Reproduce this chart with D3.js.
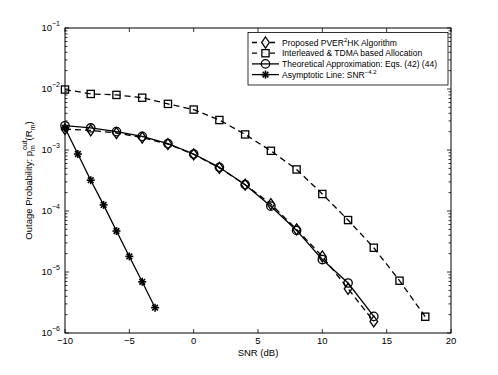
<!DOCTYPE html>
<html>
<head>
<meta charset="utf-8">
<script src="https://cdn.jsdelivr.net/npm/d3@7"></script>
<style>
  body { margin: 0; background: #fff; }
  text { font-family: "Liberation Sans", Arial, sans-serif; fill: #000; }
</style>
</head>
<body>
<svg id="chart" width="498" height="375"></svg>
<script>
// data
const snrA = [-10, -8, -6, -4, -2, 0, 2, 4, 6, 8, 10, 12, 14];
const proposed = [2.2e-3, 2.1e-3, 1.9e-3, 1.6e-3, 1.25e-3, 8.5e-4, 5.1e-4, 2.7e-4, 1.3e-4, 5.0e-5, 1.8e-5, 5.3e-6, 1.55e-6];
const theory = [2.5e-3, 2.3e-3, 2.0e-3, 1.67e-3, 1.27e-3, 8.6e-4, 5.2e-4, 2.7e-4, 1.2e-4, 4.8e-5, 1.6e-5, 6.6e-6, 1.87e-6];
const snrB = [-10, -8, -6, -4, -2, 0, 2, 4, 6, 8, 10, 12, 14, 16, 18];
const tdma = [9.8e-3, 8.3e-3, 8.0e-3, 7.2e-3, 5.7e-3, 4.6e-3, 3.1e-3, 1.8e-3, 9.7e-4, 4.8e-4, 1.9e-4, 7.1e-5, 2.5e-5, 7.2e-6, 1.85e-6];
const snrC = [-10, -9, -8, -7, -6, -5, -4, -3];
const asym = [2.3e-3, 8.6e-4, 3.2e-4, 1.26e-4, 4.7e-5, 1.8e-5, 6.9e-6, 2.6e-6];

const xTicks = [-10, -5, 0, 5, 10, 15, 20];
const yExps = [-1, -2, -3, -4, -5, -6];

const svg = d3.select("#chart");
const m = { left: 65, right: 451, top: 28, bottom: 333 };

const x = d3.scaleLinear().domain([-10, 20]).range([m.left, m.right]);
const y = d3.scaleLog().domain([1e-6, 1e-1]).range([m.bottom, m.top]);

// frame
svg.append("rect")
    .attr("x", m.left).attr("y", m.top)
    .attr("width", m.right - m.left).attr("height", m.bottom - m.top)
    .attr("fill", "none").attr("stroke", "#000").attr("stroke-width", 1);

// x ticks, inward at bottom and top
const tickG = svg.append("g").attr("stroke", "#000").attr("stroke-width", 0.8);
xTicks.forEach(t => {
    tickG.append("line").attr("x1", x(t)).attr("x2", x(t)).attr("y1", m.bottom).attr("y2", m.bottom - 4);
    tickG.append("line").attr("x1", x(t)).attr("x2", x(t)).attr("y1", m.top).attr("y2", m.top + 4);
    svg.append("text")
        .attr("x", x(t)).attr("y", m.bottom + 10.5)
        .attr("text-anchor", "middle").style("font-size", "9.5px")
        .text(t < 0 ? "\u2212" + Math.abs(t) : t);
});

// y ticks: majors and minors on both sides
yExps.forEach(e => {
    const v = Math.pow(10, e);
    tickG.append("line").attr("x1", m.left).attr("x2", m.left + 4).attr("y1", y(v)).attr("y2", y(v));
    tickG.append("line").attr("x1", m.right).attr("x2", m.right - 4).attr("y1", y(v)).attr("y2", y(v));
    const lab = svg.append("text")
        .attr("x", m.left - 5).attr("y", y(v) + 3)
        .attr("text-anchor", "end").style("font-size", "9.5px");
    lab.append("tspan").text("10");
    lab.append("tspan").attr("dy", -5).style("font-size", "7px").text("\u2212" + Math.abs(e));
});
for (let e = -6; e < -1; e++) {
    for (let k = 2; k <= 9; k++) {
        const v = k * Math.pow(10, e);
        tickG.append("line").attr("x1", m.left).attr("x2", m.left + 2.5).attr("y1", y(v)).attr("y2", y(v));
        tickG.append("line").attr("x1", m.right).attr("x2", m.right - 2.5).attr("y1", y(v)).attr("y2", y(v));
    }
}

// axis titles
svg.append("text")
    .attr("x", (m.left + m.right) / 2).attr("y", 356)
    .attr("text-anchor", "middle").style("font-size", "9.5px")
    .text("SNR (dB)");

const yt = svg.append("text")
    .attr("transform", `translate(32,${(m.top + m.bottom) / 2}) rotate(-90)`)
    .attr("text-anchor", "middle").style("font-size", "9.5px");
yt.append("tspan").text("Outage Probability: p");
yt.append("tspan").attr("dy", 3).style("font-size", "7px").text("m");
yt.append("tspan").attr("dx", -5).attr("dy", -8).style("font-size", "7px").text("out");
yt.append("tspan").attr("dy", 5).text("(R");
yt.append("tspan").attr("dy", 3).style("font-size", "7px").text("m");
yt.append("tspan").attr("dy", -3).text(")");

// marker shapes
function drawMarker(g, type, cx, cy) {
    if (type === "diamond") {
        g.append("path")
            .attr("d", `M${cx},${cy - 5.5}L${cx + 3.8},${cy}L${cx},${cy + 5.5}L${cx - 3.8},${cy}Z`)
            .attr("fill", "none").attr("stroke", "#000").attr("stroke-width", 1.3);
    } else if (type === "square") {
        g.append("rect")
            .attr("x", cx - 3.6).attr("y", cy - 3.6).attr("width", 7.2).attr("height", 7.2)
            .attr("fill", "none").attr("stroke", "#000").attr("stroke-width", 1.3);
    } else if (type === "circle") {
        g.append("circle").attr("cx", cx).attr("cy", cy).attr("r", 4.2)
            .attr("fill", "none").attr("stroke", "#000").attr("stroke-width", 1.3);
    } else if (type === "star") {
        const r = 4;
        for (let i = 0; i < 4; i++) {
            const a = i * Math.PI / 4;
            g.append("line")
                .attr("x1", cx - r * Math.cos(a)).attr("y1", cy - r * Math.sin(a))
                .attr("x2", cx + r * Math.cos(a)).attr("y2", cy + r * Math.sin(a))
                .attr("stroke", "#000").attr("stroke-width", 1.6);
        }
    }
}

const series = [
    { xs: snrA, ys: proposed, dash: "6,4", marker: "diamond", label: "Proposed PVER", sup: "2", rest: "HK Algorithm" },
    { xs: snrB, ys: tdma, dash: "6,4", marker: "square", label: "Interleaved & TDMA based Allocation" },
    { xs: snrA, ys: theory, dash: null, marker: "circle", label: "Theoretical Approximation: Eqs. (42) (44)" },
    { xs: snrC, ys: asym, dash: null, marker: "star", label: "Asymptotic Line: SNR", sup: "\u22124.2" }
];

const line = d3.line().x(d => x(d[0])).y(d => y(d[1]));
const plot = svg.append("g");
series.forEach(s => {
    const pts = s.xs.map((v, i) => [v, s.ys[i]]);
    plot.append("path").attr("d", line(pts))
        .attr("fill", "none").attr("stroke", "#000").attr("stroke-width", 1.3)
        .attr("stroke-dasharray", s.dash);
    pts.forEach(p => drawMarker(plot, s.marker, x(p[0]), y(p[1])));
});

// legend
const lg = svg.append("g");
lg.append("rect").attr("x", 248).attr("y", 32.5).attr("width", 200).attr("height", 52.5)
    .attr("fill", "#fff").attr("stroke", "#000").attr("stroke-width", 0.8);
series.forEach((s, i) => {
    const ly = 42.5 + i * 10.7;
    lg.append("line").attr("x1", 252).attr("x2", 279).attr("y1", ly).attr("y2", ly)
        .attr("stroke", "#000").attr("stroke-width", 1.3).attr("stroke-dasharray", s.dash ? "5,4" : null);
    if (s.dash) {
        lg.append("line").attr("x1", 261).attr("x2", 270).attr("y1", ly).attr("y2", ly)
            .attr("stroke", "#fff").attr("stroke-width", 2);
    }
    drawMarker(lg, s.marker, 265.5, ly);
    const t = lg.append("text").attr("x", 282).attr("y", ly + 3).style("font-size", "8.5px");
    t.append("tspan").text(s.label);
    if (s.sup) t.append("tspan").attr("dy", -4).style("font-size", "6px").text(s.sup);
    if (s.rest) t.append("tspan").attr("dy", 4).text(s.rest);
});
</script>
</body>
</html>
